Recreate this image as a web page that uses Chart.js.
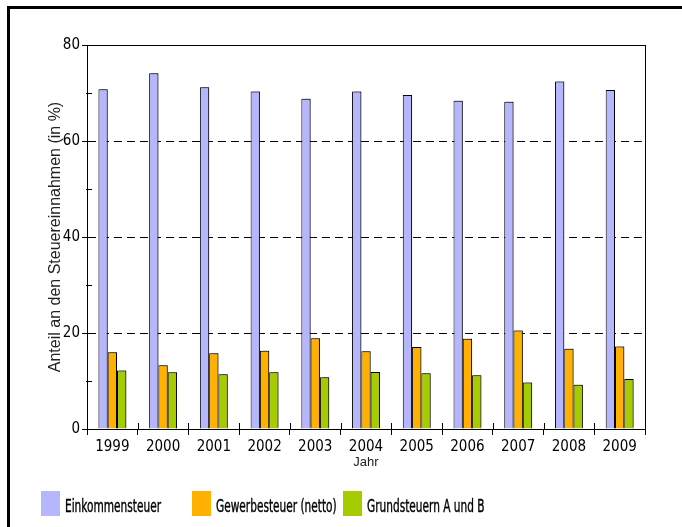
<!DOCTYPE html>
<html>
<head>
<meta charset="utf-8">
<script src="https://cdn.jsdelivr.net/npm/chart.js@4/dist/chart.umd.min.js"></script>
<style>
  html, body { margin: 0; padding: 0; background: #fff; }
  canvas { display: block; }
</style>
</head>
<body>
<canvas id="chart" width="682" height="527"></canvas>
<script>
"use strict"

// data
var years = ['1999','2000','2001','2002','2003','2004','2005','2006','2007','2008','2009'];
var seriesNames = ['Einkommensteuer','Gewerbesteuer (netto)','Grundsteuern A und B'];
var einkommen = [70.8, 74.1, 71.2, 70.3, 68.8, 70.3, 69.6, 68.4, 68.2, 72.4, 70.6];
var gewerbe = [16.0, 13.3, 15.8, 16.3, 18.9, 16.2, 17.1, 18.8, 20.5, 16.7, 17.2];
var grund = [12.2, 11.8, 11.4, 11.8, 10.8, 11.9, 11.6, 11.2, 9.7, 9.2, 10.4];
var colors = ['#b5b6fc','#ffb000','#a6cc00'];

var narrow = '"Liberation Sans Narrow", "DejaVu Sans Condensed", sans-serif';
var sans = '"Liberation Sans", Arial, sans-serif';

// frame, plot box, inner tick stubs and the legend
var decor = {
    id: 'decor',
    beforeDraw: function(chart){
        var ctx = chart.ctx;
        ctx.save();
        ctx.fillStyle = '#fff';
        ctx.fillRect(0, 0, chart.width, chart.height);
        // outer frame (top and left only visible)
        ctx.strokeStyle = '#000';
        ctx.lineWidth = 3;
        ctx.beginPath();
        ctx.moveTo(8.5, chart.height);
        ctx.lineTo(8.5, 7.5);
        ctx.lineTo(chart.width, 7.5);
        ctx.stroke();
        ctx.restore();
    },
    beforeDatasetsDraw: function(chart){
        var ctx = chart.ctx;
        ctx.save();
        ctx.shadowColor = 'rgba(0,0,0,0.35)';
        ctx.shadowOffsetX = 1.5;
        ctx.shadowOffsetY = -1.5;
        ctx.shadowBlur = 0;
    },
    afterDatasetsDraw: function(chart){
        chart.ctx.restore();
    },
    afterDraw: function(chart){
        var ctx = chart.ctx;
        var a = chart.chartArea;
        var y = chart.scales.y;
        var x = chart.scales.x;
        ctx.save();
        ctx.strokeStyle = '#000';
        ctx.lineWidth = 1;
        // plot box
        ctx.strokeRect(Math.round(a.left) + 0.5, Math.round(a.top) + 0.5,
                       Math.round(a.right - a.left), Math.round(a.bottom - a.top));
        // minor y ticks crossing the axis
        ctx.beginPath();
        y.ticks.forEach(function(t){
            if (t.value % 20 !== 0) {
                var py = Math.round(y.getPixelForValue(t.value)) + 0.5;
                ctx.moveTo(a.left - 1, py);
                ctx.lineTo(a.left + 5, py);
            }
        });
        // x ticks reach a bit into the plot
        for (var i = 0; i <= years.length; i++) {
            var px = Math.round(x.getPixelForValue(i - 0.5)) + 0.5;
            ctx.moveTo(px, a.bottom - 6);
            ctx.lineTo(px, a.bottom);
        }
        ctx.stroke();

        // legend at fixed columns, text squeezed like the condensed original
        var cols = [41, 192, 343];
        ctx.font = '18px ' + narrow;
        var squeeze = 96 / ctx.measureText(seriesNames[0]).width;
        chart.data.datasets.forEach(function(ds, k){
            var lx = cols[k];
            ctx.fillStyle = ds.backgroundColor;
            ctx.fillRect(lx, 491, 19, 25);
            ctx.save();
            ctx.translate(lx + 24, 512);
            ctx.scale(squeeze, 1);
            ctx.fillStyle = '#000';
            ctx.strokeStyle = '#000';
            ctx.lineWidth = 0.4;
            ctx.textBaseline = 'alphabetic';
            ctx.fillText(ds.label, 0, 0);
            ctx.strokeText(ds.label, 0, 0);
            ctx.restore();
        });
        ctx.restore();
    }
};

new Chart('chart', {
    type: 'bar',
    data: {
        labels: years,
        datasets: [
            { label: seriesNames[0], data: einkommen, backgroundColor: colors[0] },
            { label: seriesNames[1], data: gewerbe, backgroundColor: colors[1] },
            { label: seriesNames[2], data: grund, backgroundColor: colors[2] }
        ]
    },
    options: {
        responsive: false,
        animation: false,
        layout: { padding: { left: 46, right: 37, top: 45, bottom: 57 } },
        datasets: {
            bar: {
                borderColor: '#000',
                borderWidth: 1,
                borderSkipped: 'bottom',
                barPercentage: 1,
                categoryPercentage: 0.55
            }
        },
        plugins: {
            legend: { display: false },
            tooltip: { enabled: false }
        },
        scales: {
            x: {
                grid: {
                    offset: true,
                    drawOnChartArea: false,
                    tickLength: 6,
                    tickColor: '#000'
                },
                border: { display: true, color: '#000', width: 1 },
                ticks: {
                    color: '#000',
                    font: { family: narrow, size: 15 },
                    padding: 3,
                    maxRotation: 0
                },
                title: {
                    display: true,
                    text: 'Jahr',
                    color: '#222',
                    font: { family: sans, size: 13 },
                    padding: 0
                },
                afterFit: function(s){ s.height = 41; }
            },
            y: {
                min: 0,
                max: 80,
                grid: {
                    color: function(c){
                        var v = c.tick ? c.tick.value : 0;
                        return (v === 20 || v === 40 || v === 60) ? '#000' : 'rgba(0,0,0,0)';
                    },
                    tickColor: function(c){
                        var v = c.tick ? c.tick.value : 0;
                        return v % 20 === 0 ? '#000' : 'rgba(0,0,0,0)';
                    },
                    tickLength: 5,
                    lineWidth: 1
                },
                border: { display: true, color: '#000', width: 1, dash: [8, 5] },
                ticks: {
                    stepSize: 10,
                    color: '#000',
                    font: { family: narrow, size: 15 },
                    padding: 2,
                    callback: function(v){ return v % 20 === 0 ? v : ''; }
                },
                title: {
                    display: true,
                    text: 'Anteil an den Steuereinnahmen (in %)',
                    color: '#222',
                    font: { family: sans, size: 16 },
                    padding: 0
                },
                afterFit: function(s){ s.width = 41; }
            }
        }
    },
    plugins: [decor]
});
</script>
</body>
</html>
